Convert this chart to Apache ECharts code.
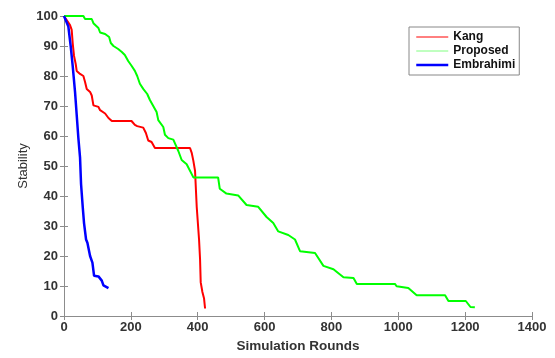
<!DOCTYPE html>
<html>
<head>
<meta charset="utf-8">
<script src="https://cdn.jsdelivr.net/npm/echarts@6/dist/echarts.min.js"></script>
<style>
  html, body { margin: 0; padding: 0; background: #fff; }
  #chart { width: 555px; height: 358px; }
</style>
</head>
<body>
<div id="chart"></div>
<script>
// values
const kangRounds = [0, 3, 18, 23, 26, 30, 35, 38, 48, 58, 63, 68, 78, 83, 88, 103, 108, 123, 133, 143, 202, 212, 219, 237, 245, 252, 262, 272, 377, 382, 387, 392, 397, 404, 407, 409, 414, 419, 422];
const kangStability = [100, 100, 97, 95.4, 91, 86.7, 84, 81.7, 80.7, 80, 78, 75.7, 74.7, 73.5, 70.2, 69.7, 68.6, 67.5, 66, 65, 65, 63.7, 63.3, 62.8, 61, 58.5, 58, 56, 56, 54.4, 51.7, 48.4, 36.4, 25.5, 18.9, 11.2, 8, 5.8, 2.5];

const proposedRounds = [0, 58, 63, 83, 88, 103, 108, 123, 135, 140, 148, 162, 173, 182, 192, 202, 212, 219, 227, 237, 249, 257, 267, 277, 282, 297, 302, 312, 327, 342, 352, 367, 387, 461, 466, 486, 521, 546, 581, 606, 626, 641, 671, 691, 706, 751, 776, 806, 836, 866, 876, 990, 995, 1030, 1055, 1140, 1150, 1202, 1216, 1229];
const proposedStability = [100, 100, 99, 99, 97.6, 96, 94.5, 94, 93, 91, 90, 89, 88, 87, 85, 83.4, 81.7, 80, 77.4, 75.7, 74, 72, 70, 68, 65.3, 63, 60.4, 59.3, 58.8, 55, 52, 50.6, 46.2, 46.2, 42.4, 40.8, 40.2, 37, 36.4, 33, 31, 28.2, 27, 25.5, 21.6, 21, 16.7, 15.6, 12.9, 12.7, 10.7, 10.7, 9.9, 9.3, 6.9, 6.9, 5, 5, 3, 2.9];

const embrahimiRounds = [0, 3, 13, 20, 26, 33, 38, 43, 48, 51, 56, 60, 66, 70, 78, 85, 90, 103, 113, 118, 133];
const embrahimiStability = [100, 100, 96.5, 90, 83.4, 74.7, 67, 59.3, 52.8, 44, 36.4, 30.9, 25.5, 24.4, 20, 17.8, 13.4, 13.2, 11.8, 10.2, 9.3];

const seriesNames = ['Kang', 'Proposed', 'Embrahimi'];

function pairs(xs, ys) {
  return xs.map((x, i) => [x, ys[i]]);
}

const font = 'Liberation Sans, Arial, sans-serif';
const axisGray = '#8c8c8c';
const labelStyle = {
  color: '#333', fontSize: 13, fontWeight: 'bold', fontFamily: font,
  formatter: v => String(v)
};

const chart = echarts.init(document.getElementById('chart'));

const option = {
  animation: false,
  backgroundColor: '#fff',
  grid: { left: 64, right: 23, top: 16, bottom: 37 },
  legend: {
    orient: 'vertical',
    left: 409,
    top: 27,
    padding: [4, 4, 4, 6],
    itemGap: 2,
    itemWidth: 32,
    itemHeight: 12,
    backgroundColor: '#fff',
    borderColor: '#888',
    borderWidth: 1,
    itemStyle: { opacity: 0, borderWidth: 0 },
    textStyle: { color: '#111', fontSize: 12, fontWeight: 'bold', fontFamily: font },
    data: [
      { name: 'Kang', lineStyle: { width: 1 } },
      { name: 'Proposed', lineStyle: { width: 1, color: '#80ff80' } },
      { name: 'Embrahimi', lineStyle: { width: 2.5 } }
    ]
  },
  xAxis: [
    {
      type: 'value',
      min: 0,
      max: 1400,
      interval: 200,
      name: 'Simulation Rounds',
      nameLocation: 'middle',
      nameGap: 23,
      nameTextStyle: { color: '#333', fontSize: 13.5, fontWeight: 'bold', fontFamily: font },
      axisLine: { lineStyle: { color: axisGray } },
      axisTick: { inside: true, length: 4, lineStyle: { color: axisGray } },
      axisLabel: Object.assign({ margin: 5 }, labelStyle),
      splitLine: { show: false }
    },
    {
      type: 'value',
      position: 'top',
      min: 0,
      max: 1400,
      interval: 200,
      axisLine: { lineStyle: { color: axisGray } },
      axisTick: { inside: true, length: 4, lineStyle: { color: axisGray } },
      axisLabel: { show: false },
      splitLine: { show: false }
    }
  ],
  yAxis: [
    {
      type: 'value',
      min: 0,
      max: 100,
      interval: 10,
      name: 'Stability',
      nameLocation: 'middle',
      nameRotate: 90,
      nameGap: 34,
      nameMoveOverlap: false,
      nameTextStyle: { color: '#333', fontSize: 13, fontFamily: font },
      axisLine: { show: true, lineStyle: { color: axisGray } },
      axisTick: { show: true, inside: true, length: 4, lineStyle: { color: axisGray } },
      axisLabel: Object.assign({ margin: 6 }, labelStyle),
      splitLine: { show: false }
    },
    {
      type: 'value',
      position: 'right',
      min: 0,
      max: 100,
      interval: 10,
      axisLine: { show: true, lineStyle: { color: axisGray } },
      axisTick: { show: true, inside: true, length: 4, lineStyle: { color: axisGray } },
      axisLabel: { show: false },
      splitLine: { show: false }
    }
  ],
  series: [
    {
      name: seriesNames[0],
      type: 'line',
      data: pairs(kangRounds, kangStability),
      symbol: 'none',
      color: '#ff0000',
      lineStyle: { width: 2, color: '#ff0000' }
    },
    {
      name: seriesNames[1],
      type: 'line',
      data: pairs(proposedRounds, proposedStability),
      symbol: 'none',
      color: '#00ff00',
      lineStyle: { width: 2, color: '#00ff00' }
    },
    {
      name: seriesNames[2],
      type: 'line',
      data: pairs(embrahimiRounds, embrahimiStability),
      symbol: 'none',
      color: '#0000ff',
      lineStyle: { width: 2.5, color: '#0000ff' }
    }
  ]
};

chart.setOption(option);
</script>
</body>
</html>
